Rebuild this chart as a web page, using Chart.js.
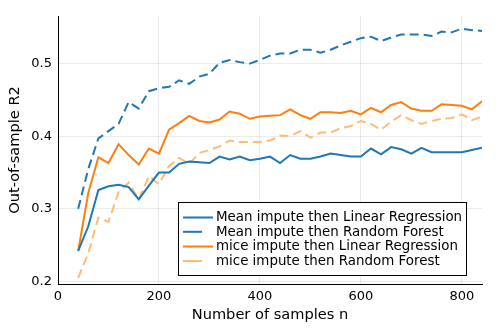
<!DOCTYPE html>
<html lang="en">
<head>
    <meta charset="UTF-8">
    <title>Out-of-sample R2 vs samples</title>
    <style>
        body {
            margin: 0;
            padding: 0;
            background: #fff;
        }
        canvas {
            display: block;
        }
    </style>
</head>
<body>
    <canvas id="r2Chart" width="498" height="332"></canvas>

    <script src="https://cdn.jsdelivr.net/npm/chart.js"></script>
    <script>
        // Number of samples n
        const sampleSizes = [40, 60, 80, 100, 120, 140, 160, 180, 200, 220, 240, 260, 280, 300,
            320, 340, 360, 380, 400, 420, 440, 460, 480, 500, 520, 540, 560, 580, 600,
            620, 640, 660, 680, 700, 720, 740, 760, 780, 800, 820, 840];

        const meanLinReg = [0.242, 0.276, 0.326, 0.331, 0.333, 0.330, 0.313, 0.332, 0.350, 0.350, 0.362, 0.365, 0.364, 0.363,
            0.372, 0.368, 0.372, 0.367, 0.369, 0.372, 0.363, 0.374, 0.369, 0.369, 0.372, 0.376, 0.374, 0.372, 0.372,
            0.383, 0.375, 0.385, 0.382, 0.376, 0.384, 0.378, 0.378, 0.378, 0.378, 0.381, 0.384];

        const meanRandForest = [0.300, 0.355, 0.397, 0.407, 0.417, 0.447, 0.438, 0.462, 0.466, 0.468, 0.477, 0.472, 0.482, 0.486,
            0.501, 0.505, 0.502, 0.500, 0.505, 0.511, 0.514, 0.514, 0.519, 0.519, 0.515, 0.519, 0.525, 0.530, 0.535,
            0.537, 0.531, 0.536, 0.540, 0.540, 0.540, 0.538, 0.544, 0.543, 0.548, 0.546, 0.545];

        const miceLinReg = [0.242, 0.322, 0.371, 0.363, 0.389, 0.374, 0.361, 0.383, 0.376, 0.409, 0.418, 0.428, 0.421, 0.419,
            0.423, 0.434, 0.431, 0.424, 0.427, 0.428, 0.429, 0.437, 0.429, 0.424, 0.433, 0.433, 0.432, 0.435, 0.430,
            0.439, 0.433, 0.443, 0.447, 0.438, 0.435, 0.435, 0.444, 0.443, 0.442, 0.437, 0.448];

        const miceRandForest = [0.205, 0.239, 0.288, 0.282, 0.323, 0.336, 0.313, 0.345, 0.334, 0.359, 0.370, 0.362, 0.377, 0.381,
            0.386, 0.394, 0.392, 0.392, 0.392, 0.394, 0.401, 0.400, 0.407, 0.398, 0.405, 0.405, 0.411, 0.414, 0.421,
            0.417, 0.409, 0.420, 0.429, 0.422, 0.417, 0.421, 0.424, 0.425, 0.430, 0.422, 0.427];

        const seriesNames = [
            'Mean impute then Linear Regression',
            'Mean impute then Random Forest',
            'mice impute then Linear Regression',
            'mice impute then Random Forest'
        ];

        const xTicks = [0, 200, 400, 600, 800];
        const yTicks = [0.2, 0.3, 0.4, 0.5];

        const FONT = 'DejaVu Sans';

        function toPoints(values) {
            return values.map((v, i) => ({ x: sampleSizes[i], y: v }));
        }

        // legend drawn inside the plot, bottom right, like the original
        const insideLegend = {
            id: 'insideLegend',
            afterDraw(chart) {
                const ctx = chart.ctx;
                const box = { left: 178.5, top: 202.5, right: 466.5, bottom: 275.5 };
                ctx.save();
                ctx.fillStyle = '#fff';
                ctx.fillRect(box.left, box.top, box.right - box.left, box.bottom - box.top);
                ctx.strokeStyle = '#000';
                ctx.lineWidth = 1;
                ctx.strokeRect(box.left, box.top, box.right - box.left, box.bottom - box.top);

                ctx.font = '13.4px ' + FONT;
                ctx.textBaseline = 'middle';
                ctx.textAlign = 'left';
                const rows = [217.5, 231.8, 246.5, 261];
                chart.data.datasets.forEach((ds, i) => {
                    const y = rows[i];
                    ctx.strokeStyle = ds.borderColor;
                    ctx.lineWidth = 2;
                    ctx.setLineDash([]);
                    ctx.beginPath();
                    ctx.moveTo(183, y);
                    ctx.lineTo(ds.borderDash ? 202 : 213, y);
                    ctx.stroke();
                    ctx.fillStyle = '#000';
                    ctx.fillText(ds.label, 216, y + 0.5);
                });
                ctx.restore();
            }
        };

        const ctx = document.getElementById('r2Chart').getContext('2d');
        const r2Chart = new Chart(ctx, {
            type: 'line',
            data: {
                datasets: [
                    {
                        label: seriesNames[0],
                        data: toPoints(meanLinReg),
                        borderColor: '#1f77b4',
                        borderWidth: 2
                    },
                    {
                        label: seriesNames[1],
                        data: toPoints(meanRandForest),
                        borderColor: '#1f77b4',
                        borderWidth: 2,
                        borderDash: [9, 5]
                    },
                    {
                        label: seriesNames[2],
                        data: toPoints(miceLinReg),
                        borderColor: '#ff7f0e',
                        borderWidth: 2
                    },
                    {
                        label: seriesNames[3],
                        data: toPoints(miceRandForest),
                        borderColor: '#ffbb78',
                        borderWidth: 2,
                        borderDash: [9, 5]
                    }
                ]
            },
            options: {
                responsive: false,
                animation: false,
                layout: {
                    padding: { top: 16, right: 16, left: 0, bottom: 0 }
                },
                elements: {
                    point: { radius: 0 },
                    line: { tension: 0, fill: false }
                },
                plugins: {
                    legend: { display: false },
                    tooltip: { enabled: false }
                },
                scales: {
                    x: {
                        type: 'linear',
                        min: 0,
                        max: 840,
                        afterBuildTicks: scale => {
                            scale.ticks = xTicks.map(v => ({ value: v }));
                        },
                        afterFit: scale => {
                            scale.height = 48;
                        },
                        grid: {
                            color: 'rgba(0,0,0,0.08)',
                            drawTicks: false
                        },
                        border: { display: true, color: '#000', width: 1 },
                        ticks: {
                            color: '#000',
                            padding: 5,
                            font: { family: FONT, size: 13 }
                        },
                        title: {
                            display: true,
                            text: 'Number of samples n',
                            color: '#000',
                            padding: { top: 0, bottom: 8 },
                            font: { family: FONT, size: 14.6 }
                        }
                    },
                    y: {
                        min: 0.1965,
                        max: 0.5655,
                        afterBuildTicks: scale => {
                            scale.ticks = yTicks.map(v => ({ value: v }));
                        },
                        afterFit: scale => {
                            scale.width = 58;
                        },
                        grid: {
                            color: 'rgba(0,0,0,0.08)',
                            drawTicks: false
                        },
                        border: { display: true, color: '#000', width: 1 },
                        ticks: {
                            color: '#000',
                            padding: 6,
                            font: { family: FONT, size: 13 },
                            callback: v => v.toFixed(1)
                        },
                        title: {
                            display: true,
                            text: 'Out-of-sample R2',
                            color: '#000',
                            padding: { top: 6, bottom: 0 },
                            font: { family: FONT, size: 14.6 }
                        }
                    }
                }
            },
            plugins: [insideLegend]
        });
    </script>
</body>
</html>
